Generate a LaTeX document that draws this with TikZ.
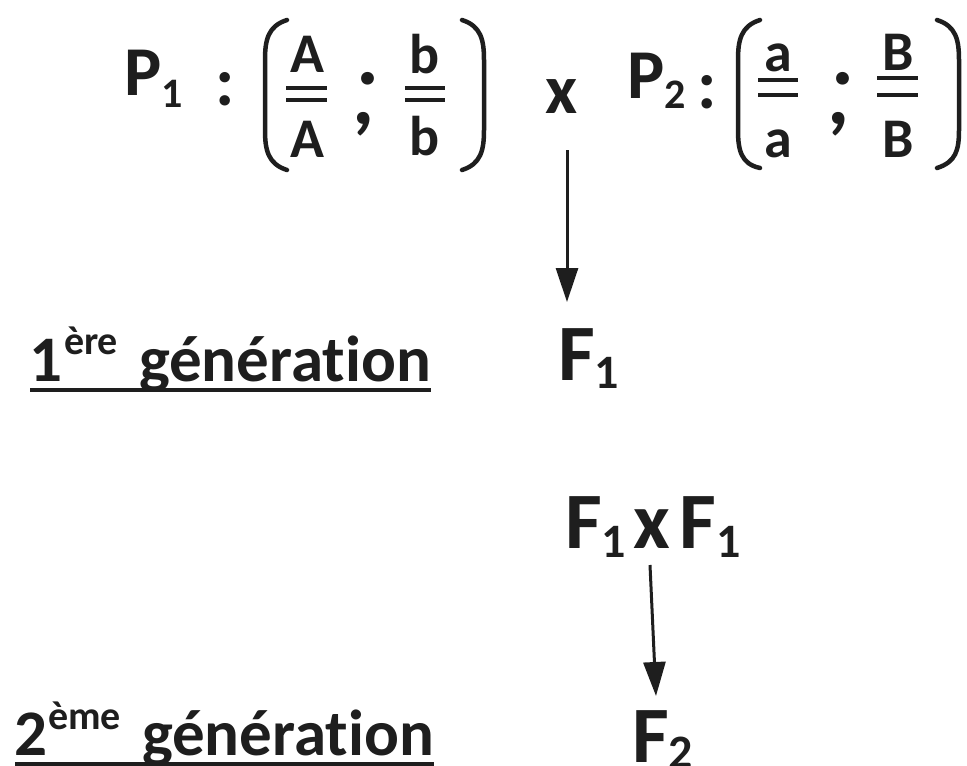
\documentclass[tikz,border=0pt]{standalone}
\usepackage{fontspec}
\setmainfont{Carlito}[Ligatures=NoCommon]
\usetikzlibrary{arrows.meta}
\definecolor{ink}{HTML}{1E1E1E}
\newcommand{\lowsub}[3]{\raisebox{-#1}{\fontsize{#2}{#2}\selectfont #3}}
\newcommand{\bigsemi}{\rlap{\kern4pt\raisebox{40pt}{.}},}
\begin{document}
\begin{tikzpicture}[x=1pt,y=-1pt,
  txt/.style={inner sep=0pt, outer sep=0pt, text=ink},
  big/.style={txt, font=\fontsize{70}{80}\selectfont\bfseries},
  gen/.style={txt, font=\fontsize{65}{80}\selectfont\bfseries},
  bigF/.style={txt, font=\fontsize{80}{90}\selectfont\bfseries},
  frac/.style={txt, font=\fontsize{56}{60}\selectfont\bfseries},
  supr/.style={txt, font=\fontsize{40}{40}\selectfont\bfseries},
  semi/.style={txt, font=\fontsize{86}{86}\selectfont\bfseries},
  bar/.style={draw=ink, line width=4.5pt},
  paren/.style={draw=ink, line width=4.5pt, line cap=round},
  uline/.style={draw=ink, line width=4pt},
  arr/.style={draw=ink, line width=3pt, -{Triangle[length=34pt,width=22pt]}}]
\useasboundingbox (0,0) rectangle (967,766);

% ---- top line: P1
\node[big, anchor=base west] (P1) at (124,95) {P\lowsub{12pt}{42}{1}};
\node[big, anchor=base] (col1) at (225,105) {:};
\draw[paren] (287,20) .. controls (268,26) and (265,40) .. (265,60) -- (265,130) .. controls (265,150) and (268,164) .. (287,170);
\node[frac, anchor=base] (nA) at (307,72) {A};
\node[frac, anchor=base] (dA) at (307,157) {A};
\draw[bar] (286,88) -- (327,88);
\draw[bar] (286,100) -- (327,100);
\node[semi, anchor=base] (semi1) at (364,124) {\bigsemi};
\node[frac, anchor=base] (nb) at (425,73) {b};
\node[frac, anchor=base] (db) at (425,155) {b};
\draw[bar] (405,88) -- (445,88);
\draw[bar] (405,100) -- (445,100);
\draw[paren] (462,20) .. controls (481,26) and (484,40) .. (484,60) -- (484,130) .. controls (484,150) and (481,164) .. (462,170);

\node[big, anchor=base] (cross) at (562,113) {x};

% ---- P2
\node[big, anchor=base west] (P2) at (627,98) {P\lowsub{10pt}{42}{2}};
\node[big, anchor=base] (col2) at (707,108) {:};
\draw[paren] (760,20) .. controls (741,26) and (738,40) .. (738,60) -- (738,130) .. controls (738,150) and (741,164) .. (760,168);
\node[frac, anchor=base] (na) at (778,71) {a};
\node[frac, anchor=base] (da) at (778,157) {a};
\draw[bar] (758,80) -- (798,80);
\draw[bar] (758,95) -- (798,95);
\node[semi, anchor=base] (semi2) at (839,124) {\bigsemi};
\node[frac, anchor=base] (nB) at (898,70) {B};
\node[frac, anchor=base] (dB) at (898,157) {B};
\draw[bar] (877,78) -- (918,78);
\draw[bar] (877,95) -- (918,95);
\draw[paren] (937,20) .. controls (956,26) and (959,40) .. (959,60) -- (959,130) .. controls (959,150) and (956,162) .. (937,168);

% ---- arrow 1
\coordinate (a1s) at (567,150);
\coordinate (a1e) at (567,302);
\draw[arr] (a1s) -- (a1e);

% ---- 1st generation
\node[gen, anchor=base west] (one) at (30,381) {1};
\node[supr, anchor=base west] (ere) at (64,354) {ère};
\node[gen, anchor=base west] (gen1) at (139,381) {génération};
\draw[uline] (30,390) -- (gen1.east |- 0,390);
\node[bigF, anchor=base west] (F1) at (558,380) {F\lowsub{8pt}{48}{1}};

% ---- F1 x F1
\node[bigF, anchor=base west] (F1xF1) at (565,548) {F\lowsub{9pt}{48}{1}\kern7pt x\kern10pt F\lowsub{9pt}{48}{1}};
\coordinate (a2s) at (650,565);
\coordinate (a2e) at (656,696);
\draw[arr] (a2s) -- (a2e);

% ---- 2nd generation
\node[gen, anchor=base west] (two) at (15,755) {2};
\node[supr, anchor=base west] (eme) at (48,729) {ème};
\node[gen, anchor=base west] (gen2) at (142,755) {génération};
\draw[uline] (15,764) -- (gen2.east |- 0,764);
\node[bigF, anchor=base west] (F2) at (632,762) {F\lowsub{6pt}{48}{2}};
\end{tikzpicture}
\end{document}
